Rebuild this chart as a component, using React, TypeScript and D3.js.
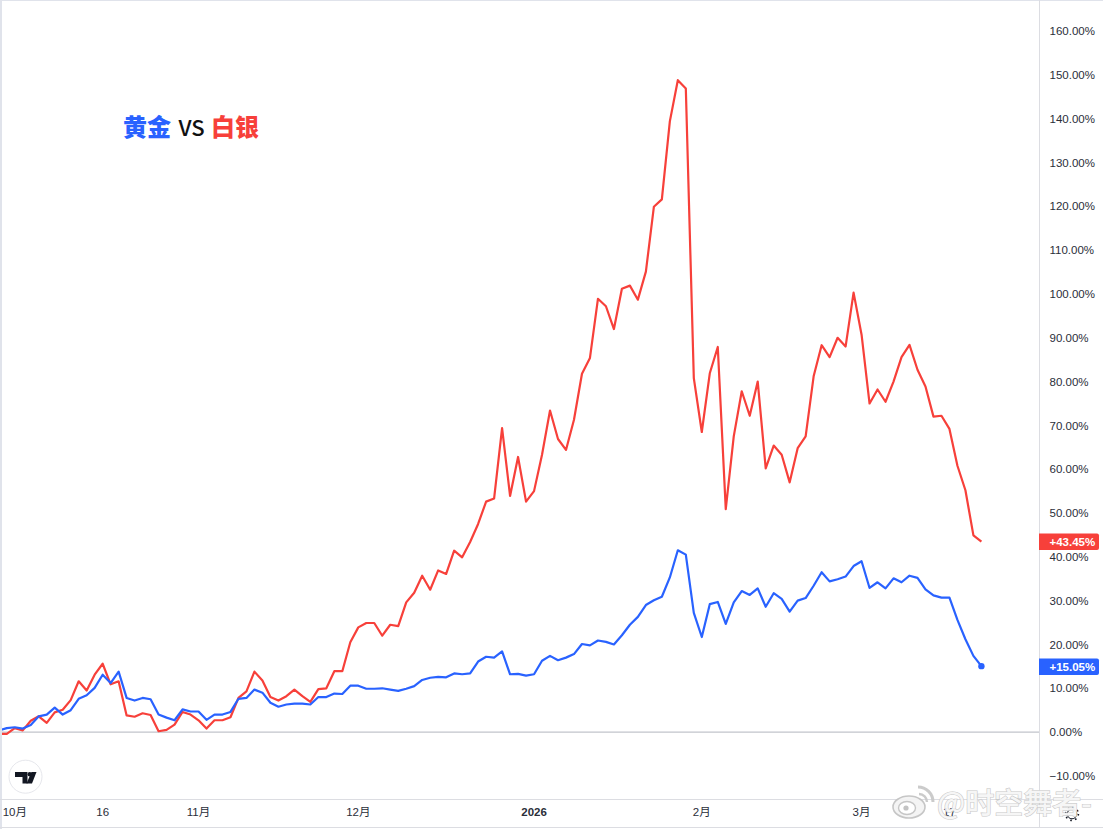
import React from 'react';
import * as d3 from 'd3';

// percent change
const silver = [
  -0.4, -0.4, 0.9, 0.4, 2.6, 3.6, 2.1, 4.5, 5.1, 7.3, 11.6, 9.5, 13.1, 15.6, 10.9, 11.6, 3.8, 3.5, 4.3, 3.9,
  0.2, 0.5, 1.7, 4.6, 4.0, 2.7, 0.8, 2.7, 2.7, 3.4, 7.8, 9.3, 13.8, 11.8, 8.0, 7.2, 8.2, 9.7, 8.2, 6.9,
  9.8, 10.0, 13.9, 13.9, 20.5, 23.9, 24.9, 24.9, 22.0, 24.5, 24.2, 29.6, 31.8, 35.7, 32.5, 36.9, 36.1, 41.4, 39.9, 43.4,
  47.5, 52.6, 53.3, 69.4, 53.9, 62.8, 52.6, 55.0, 63.3, 73.4, 66.9, 64.4, 71.3, 81.8, 85.4, 98.9, 97.2, 92.0, 101.2, 101.9,
  98.7, 105.1, 119.9, 121.6, 139.4, 148.8, 146.9, 80.8, 68.5, 81.9, 87.9, 50.9, 67.5, 77.8, 72.2, 80.0, 60.2, 65.4, 63.3, 57.0,
  64.8, 67.5, 81.2, 88.3, 85.6, 90.0, 88.0, 100.3, 90.7, 75.0, 78.2, 75.4, 80.0, 85.6, 88.4, 82.7, 78.9, 72.0, 72.2, 69.2,
  60.8, 55.2, 44.9, 43.45,
];
const gold = [
  0.4, 0.9, 1.1, 0.8, 1.6, 3.6, 4.0, 5.6, 4.0, 5.0, 7.6, 8.4, 10.1, 13.1, 11.2, 13.8, 7.8, 7.2, 7.8, 7.5,
  4.0, 3.3, 2.7, 5.2, 4.7, 4.7, 2.8, 4.0, 4.0, 4.6, 7.6, 7.8, 9.7, 9.0, 6.7, 5.8, 6.3, 6.5, 6.5, 6.3,
  8.0, 8.0, 8.8, 8.7, 10.6, 10.6, 9.9, 9.9, 10.0, 9.7, 9.4, 9.9, 10.5, 11.9, 12.4, 12.6, 12.5, 13.4, 13.2, 13.4,
  16.1, 17.2, 17.0, 18.4, 13.2, 13.3, 12.9, 13.2, 16.3, 17.4, 16.4, 17.0, 17.8, 20.1, 19.8, 20.9, 20.6, 20.0, 22.1, 24.5,
  26.3, 29.0, 30.1, 30.9, 35.3, 41.5, 40.5, 27.2, 21.7, 29.2, 29.7, 24.7, 29.6, 32.2, 31.3, 32.8, 28.6, 31.7, 30.4, 27.5,
  30.0, 30.6, 33.4, 36.5, 34.4, 34.9, 35.5, 37.9, 39.0, 32.9, 34.2, 32.8, 35.1, 34.2, 35.7, 35.2, 32.6, 31.2, 30.7, 30.7,
  25.6, 21.2, 17.4, 15.05,
];
const yTicks = [-10, 0, 10, 20, 30, 40, 50, 60, 70, 80, 90, 100, 110, 120, 130, 140, 150, 160];
const xTickIndex = [2, 13, 25, 45, 67, 88, 108, 119];
const xTickLabels = ['10月', '16', '11月', '12月', '2026', '2月', '3月', '17'];

const RED = '#f7403a';
const BLUE = '#2962ff';
const FONT = '"Liberation Sans", "Noto Sans CJK SC", sans-serif';
const CJK = '"Noto Sans CJK SC", sans-serif';

const W = 1103;
const H = 829;
const axisX = 1039;
const axisY = 799;

const App = () => {
  const x = d3.scaleLinear().domain([0, silver.length - 1]).range([-1.2, 981.4]);
  const y = d3.scaleLinear().domain([0, 160]).range([732.1, 31.1]);
  const line = d3.line<number>().x((_, i) => x(i)).y(d => y(d));
  const last = silver.length - 1;

  return (
    <svg width={W} height={H} viewBox={`0 0 ${W} ${H}`}
      style={{ position: 'absolute', left: 0, top: 0, display: 'block', background: '#fff' }}>
      <line x1={0} x2={axisX} y1={y(0)} y2={y(0)} stroke="#b2b5be" strokeWidth={1} />
      <path d={line(silver) ?? ''} fill="none" stroke={RED} strokeWidth={2.2} strokeLinejoin="round" />
      <path d={line(gold) ?? ''} fill="none" stroke={BLUE} strokeWidth={2.2} strokeLinejoin="round" />
      <circle cx={x(last)} cy={y(gold[last])} r={3.2} fill={BLUE} />

      {/* frame */}
      <rect x={0} y={0} width={2} height={H} fill="#e0e3eb" />
      <line x1={0} x2={W} y1={0.5} y2={0.5} stroke="#e0e3eb" />
      <line x1={axisX + 0.5} x2={axisX + 0.5} y1={0} y2={828} stroke="#dcdde2" />
      <line x1={0} x2={W} y1={axisY + 0.5} y2={axisY + 0.5} stroke="#dcdde2" />
      <line x1={0} x2={W} y1={827.5} y2={827.5} stroke="#dcdde2" />

      {yTicks.map(t => (
        <text key={t} x={1049.5} y={y(t)} dy="0.36em" fontFamily={FONT} fontSize={11.5} fill="#2a2e39">
          {t < 0 ? `\u2212${Math.abs(t)}.00%` : `${t}.00%`}
        </text>
      ))}
      {xTickIndex.map((d, i) => (
        <text key={d} x={x(d)} y={816} textAnchor="middle" fontFamily={FONT} fontSize={11.5}
          fontWeight={xTickLabels[i] === '2026' ? 700 : 400} fill="#2a2e39">
          {xTickLabels[i]}
        </text>
      ))}

      {/* last value tags */}
      <path d="M1039 533.5H1097a2 2 0 0 1 2 2V548a2 2 0 0 1 -2 2H1039Z" fill={RED} />
      <text x={1049.5} y={541.8} dy="0.36em" fontFamily={FONT} fontSize={11.5} fontWeight={700} fill="#fff">
        {`+${silver[last].toFixed(2)}%`}
      </text>
      <path d="M1039 658.5H1097a2 2 0 0 1 2 2V673a2 2 0 0 1 -2 2H1039Z" fill={BLUE} />
      <text x={1049.5} y={666.8} dy="0.36em" fontFamily={FONT} fontSize={11.5} fontWeight={700} fill="#fff">
        {`+${gold[last].toFixed(2)}%`}
      </text>

      {/* title */}
      <text x={123} y={136} fontFamily={CJK} fontSize={24} fontWeight={900} fill={BLUE}>黄金</text>
      <text x={178.5} y={135.5} fontFamily={CJK} fontSize={22} fontWeight={500} fill="#111">VS</text>
      <text x={211} y={136} fontFamily={CJK} fontSize={24} fontWeight={900} fill={RED}>白银</text>

      {/* tradingview badge */}
      <circle cx={25.5} cy={776.7} r={16.5} fill="#fff" stroke="#e6e7ec" strokeWidth={1} />
      <path d="M15 772H27.5V783.5H22.5V777H15Z" fill="#131722" />
      <circle cx={29.8} cy={774.2} r={2.2} fill="#131722" />
      <path d="M31.5 772H36.5L32 783.5H26.5Z" fill="#131722" />

      {/* gear */}
      <circle cx={1072} cy={814} r={4.8} fill="none" stroke="#131722" strokeWidth={1} />
      <circle cx={1072} cy={814} r={6.4} fill="none" stroke="#131722" strokeWidth={1.6} strokeDasharray="1.6 3.4" />

      {/* watermark */}
      <g opacity={0.95}>
        <ellipse cx={909} cy={807} rx={16} ry={11} fill="#f4f4f4" stroke="#c4c4c4" strokeWidth={1.6} />
        <ellipse cx={907} cy={808} rx={8.5} ry={6.5} fill="#fff" stroke="#c4c4c4" strokeWidth={1.4} />
        <circle cx={906} cy={808} r={2.6} fill="#c0c0c0" />
        <path d="M918 787a15 15 0 0 1 15 15" fill="none" stroke="#c9c9c9" strokeWidth={3} />
        <path d="M919 794a8 8 0 0 1 8 8" fill="none" stroke="#c9c9c9" strokeWidth={2.4} />
        <text x={937} y={814} fontFamily={CJK} fontSize={29} fontWeight={500} fill="#f6f6f6"
          stroke="#c6c6c6" strokeWidth={1.2} paintOrder="stroke">
          @时空舞者-
        </text>
      </g>
    </svg>
  );
};

export default App;
